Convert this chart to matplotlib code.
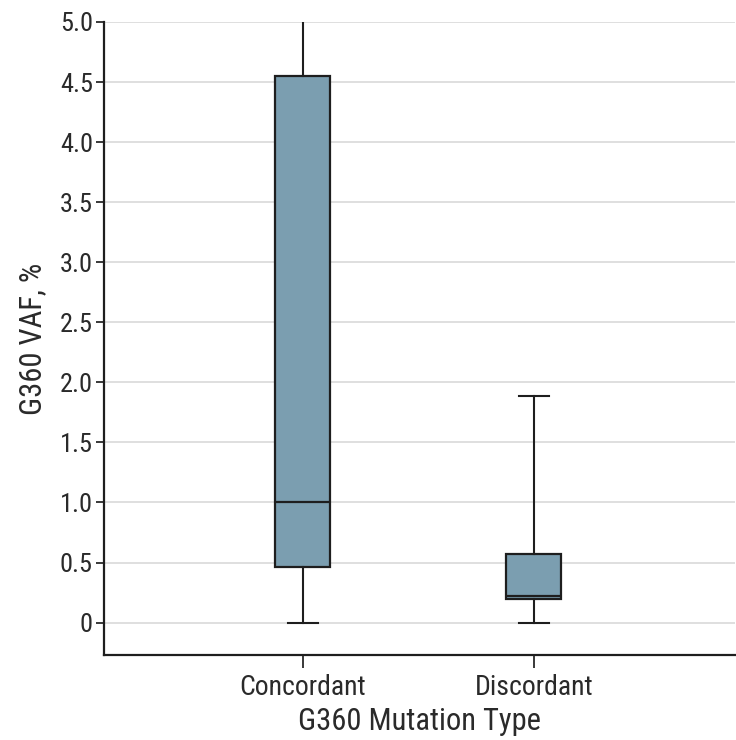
import matplotlib
matplotlib.use("Agg")
import matplotlib.pyplot as plt
from matplotlib import font_manager

categories = ["Concordant", "Discordant"]
whisker_low = [0.0, 0.0]
q1 = [0.46, 0.20]
median = [1.0, 0.22]
q3 = [4.55, 0.57]
whisker_high = [5.3, 1.89]
yticks = [0, 0.5, 1.0, 1.5, 2.0, 2.5, 3.0, 3.5, 4.0, 4.5, 5.0]
ytick_labels = ["0", "0.5", "1.0", "1.5", "2.0", "2.5", "3.0", "3.5", "4.0", "4.5", "5.0"]

names = {f.name for f in font_manager.fontManager.ttflist}
prefs = ["Roboto Condensed", "Fira Sans Condensed", "PT Sans Narrow", "Open Sans Condensed",
         "Encode Sans Condensed", "Asap Condensed", "IBM Plex Sans Condensed",
         "Liberation Sans Narrow", "Archivo Narrow"]
fam = next((p for p in prefs if p in names), "DejaVu Sans")
plt.rcParams['font.family'] = [fam, 'DejaVu Sans']
plt.rcParams['font.weight'] = 'normal'

fig = plt.figure(figsize=(7.36, 7.40), dpi=100)
ax = fig.add_axes([104/736, 1-655/740, 631/736, (655-22)/740])

stats = []
for i, c in enumerate(categories):
    stats.append(dict(label=c, whislo=whisker_low[i], q1=q1[i], med=median[i],
                      q3=q3[i], whishi=whisker_high[i], fliers=[]))

positions = list(range(len(categories)))
ax.bxp(stats, positions=positions, widths=0.238, patch_artist=True,
       showfliers=False,
       boxprops=dict(facecolor="#7b9eb0", edgecolor="#1e1e1e", linewidth=1.6),
       medianprops=dict(color="#1e1e1e", linewidth=1.6),
       whiskerprops=dict(color="#1e1e1e", linewidth=1.5),
       capprops=dict(color="#1e1e1e", linewidth=1.5),
       capwidths=0.13, zorder=3)

ax.set_ylim(-0.27, 5.0)
ax.set_xlim(-0.861, 1.87)
ax.set_yticks(yticks)
ax.set_yticklabels(ytick_labels)
ax.set_xticks(positions)
ax.set_xticklabels(categories)
ax.yaxis.grid(True, color="#d9d9d9", linewidth=1.2, zorder=0)
ax.set_axisbelow(True)
for s in ["top", "right"]:
    ax.spines[s].set_visible(False)
for s in ["left", "bottom"]:
    ax.spines[s].set_linewidth(1.6)
    ax.spines[s].set_color("#1e1e1e")
ax.tick_params(axis="y", length=6, width=1.3, labelsize=19, colors="#2a2a2a", pad=2)
ax.tick_params(axis="x", length=9, width=1.3, labelsize=20, colors="#2a2a2a", pad=5)
ax.set_ylabel("G360 VAF, %", fontsize=22, color="#2a2a2a", labelpad=9)
ax.set_xlabel("G360 Mutation Type", fontsize=22, color="#2a2a2a", labelpad=4)

fig.savefig("out.png", dpi=100)
